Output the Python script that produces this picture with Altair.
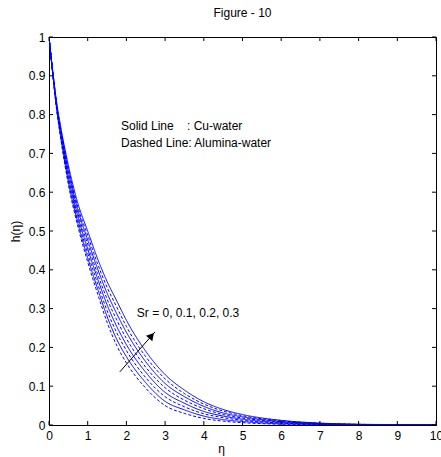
import altair as alt
import pandas as pd

# ---- data ----
eta = [0, 0.1, 0.2, 0.3, 0.5, 0.75, 1, 1.25, 1.5, 1.75, 2, 2.5, 3, 3.5, 4, 4.5, 5, 6, 7, 8, 9, 10]

alumina_sr0 = [1, 0.900, 0.810, 0.740, 0.620, 0.510, 0.420, 0.340, 0.265, 0.205, 0.160, 0.095, 0.050, 0.030, 0.017, 0.010, 0.006, 0.002, 0.001, 0.000, 0.000, 0.000]
cu_sr0 = [1, 0.901, 0.813, 0.744, 0.627, 0.519, 0.431, 0.353, 0.280, 0.221, 0.176, 0.109, 0.061, 0.039, 0.023, 0.014, 0.009, 0.003, 0.0016, 0.0003, 0.0001, 0.000]
alumina_sr1 = [1, 0.903, 0.816, 0.749, 0.634, 0.527, 0.443, 0.366, 0.295, 0.238, 0.192, 0.122, 0.073, 0.047, 0.029, 0.019, 0.012, 0.005, 0.002, 0.0006, 0.0003, 0.000]
cu_sr1 = [1, 0.904, 0.819, 0.753, 0.641, 0.536, 0.454, 0.379, 0.310, 0.254, 0.207, 0.136, 0.084, 0.056, 0.035, 0.023, 0.015, 0.006, 0.0027, 0.0009, 0.0004, 0.000]
alumina_sr2 = [1, 0.906, 0.821, 0.757, 0.649, 0.544, 0.466, 0.391, 0.325, 0.271, 0.223, 0.149, 0.096, 0.064, 0.042, 0.027, 0.018, 0.008, 0.003, 0.001, 0.0006, 0.000]
cu_sr2 = [1, 0.907, 0.824, 0.761, 0.656, 0.553, 0.477, 0.404, 0.340, 0.287, 0.239, 0.163, 0.107, 0.073, 0.048, 0.031, 0.021, 0.009, 0.0037, 0.0014, 0.0007, 0.000]
alumina_sr3 = [1, 0.909, 0.827, 0.766, 0.663, 0.561, 0.489, 0.417, 0.355, 0.304, 0.254, 0.176, 0.119, 0.081, 0.054, 0.036, 0.024, 0.011, 0.0043, 0.0017, 0.0009, 0.000]
cu_sr3 = [1, 0.910, 0.830, 0.770, 0.670, 0.570, 0.500, 0.430, 0.370, 0.320, 0.270, 0.190, 0.130, 0.090, 0.060, 0.040, 0.027, 0.012, 0.005, 0.002, 0.001, 0.000]

series = [
    ("Alumina-water", "0", alumina_sr0),
    ("Cu-water", "0", cu_sr0),
    ("Alumina-water", "0.1", alumina_sr1),
    ("Cu-water", "0.1", cu_sr1),
    ("Alumina-water", "0.2", alumina_sr2),
    ("Cu-water", "0.2", cu_sr2),
    ("Alumina-water", "0.3", alumina_sr3),
    ("Cu-water", "0.3", cu_sr3),
]

x_ticks = [0, 1, 2, 3, 4, 5, 6, 7, 8, 9, 10]
y_ticks = [0, 0.1, 0.2, 0.3, 0.4, 0.5, 0.6, 0.7, 0.8, 0.9, 1]

note_lines = ["Solid Line\u00a0\u00a0\u00a0\u00a0: Cu-water", "Dashed Line: Alumina-water"]
note_x = [1.86, 1.86]
note_y = [0.76, 0.716]
sr_label = "Sr = 0, 0.1, 0.2, 0.3"
sr_x, sr_y = 2.27, 0.278
arrow_start = (1.83, 0.137)
arrow_end = (2.74, 0.24)
arrow_head = (2.65, 0.230)

W, H = 387, 388
FONT = "Liberation Sans"

rows = []
for fluid, sr, vals in series:
    for e, v in zip(eta, vals):
        rows.append({"eta": e, "h": v, "fluid": fluid, "sr": sr, "key": fluid + sr})
df = pd.DataFrame(rows)

xs = alt.Scale(domain=[0, 10], nice=False)
ys = alt.Scale(domain=[0, 1], nice=False)

x_axis = alt.Axis(values=x_ticks, format="d", ticks=False, grid=False,
                  labelOverlap=False, labelFlush=False,
                  domainColor="black", labelColor="black", labelFont=FONT,
                  labelFontSize=12, labelPadding=5, title="η", titleFont=FONT,
                  titleFontSize=12, titleFontWeight="normal", titleColor="black",
                  titlePadding=2, titleX=172)
y_axis = alt.Axis(values=y_ticks, format=".1~f", ticks=False, grid=False,
                  labelOverlap=False, labelFlush=False,
                  domainColor="black", labelColor="black", labelFont=FONT,
                  labelFontSize=12, labelPadding=4, title="h(η)", titleFont=FONT,
                  titleFontSize=12, titleFontWeight="normal", titleColor="black",
                  titlePadding=6)


def X(field):
    return alt.X(field, scale=xs, axis=x_axis)


def Y(field):
    return alt.Y(field, scale=ys, axis=y_axis)


lines = alt.Chart(df).mark_line(strokeWidth=1, interpolate="monotone", clip=True).encode(
    x=X("eta:Q"),
    y=Y("h:Q"),
    detail="key:N",
    strokeDash=alt.StrokeDash("fluid:N",
                              scale=alt.Scale(domain=["Cu-water", "Alumina-water"],
                                              range=[[1, 0], [3, 2]]),
                              legend=None),
    color=alt.value("#0000ff"),
)

xt = pd.DataFrame({"v": x_ticks})
yt = pd.DataFrame({"v": y_ticks})
tick_style = dict(color="black", strokeWidth=1)
bottom_ticks = alt.Chart(xt).mark_rule(**tick_style).encode(
    x=X("v:Q"), y=alt.value(H), y2=alt.value(H - 4))
top_ticks = alt.Chart(xt).mark_rule(**tick_style).encode(
    x=X("v:Q"), y=alt.value(0), y2=alt.value(4))
left_ticks = alt.Chart(yt).mark_rule(**tick_style).encode(
    y=Y("v:Q"), x=alt.value(0), x2=alt.value(4))
right_ticks = alt.Chart(yt).mark_rule(**tick_style).encode(
    y=Y("v:Q"), x=alt.value(W), x2=alt.value(W - 4))

notes_df = pd.DataFrame({"t": note_lines, "x": note_x, "y": note_y})
notes = alt.Chart(notes_df).mark_text(align="left", baseline="alphabetic", font=FONT,
                                       fontSize=12, color="black").encode(
    x=X("x:Q"), y=Y("y:Q"), text="t:N")

sr_df = pd.DataFrame({"t": [sr_label], "x": [sr_x], "y": [sr_y]})
sr_text = alt.Chart(sr_df).mark_text(align="left", baseline="alphabetic", font=FONT,
                                     fontSize=12, color="black").encode(
    x=X("x:Q"), y=Y("y:Q"), text="t:N")

arr_df = pd.DataFrame({"x": [arrow_start[0]], "y": [arrow_start[1]],
                       "x2": [arrow_end[0]], "y2": [arrow_end[1]]})
arrow_line = alt.Chart(arr_df).mark_rule(color="black", strokeWidth=1).encode(
    x=X("x:Q"), y=Y("y:Q"), x2="x2:Q", y2="y2:Q")
head_df = pd.DataFrame({"x": [arrow_head[0]], "y": [arrow_head[1]]})
arrow_head_mark = alt.Chart(head_df).mark_point(shape="triangle-up", angle=41, filled=True,
                                                size=70, color="black", opacity=1).encode(
    x=X("x:Q"), y=Y("y:Q"))

chart = alt.layer(
    lines, bottom_ticks, top_ticks, left_ticks, right_ticks,
    notes, sr_text, arrow_line, arrow_head_mark
).properties(
    width=W, height=H,
    title=alt.TitleParams("Figure - 10", font=FONT, fontSize=12, fontWeight="normal",
                          color="black", offset=11, anchor="middle"),
    autosize=alt.AutoSizeParams(type="none"),
    padding={"left": 49, "top": 37, "right": 5, "bottom": 32},
    background="white",
).configure_view(stroke="black", strokeWidth=1)

chart.save("out.html", embed_options={"renderer": "svg", "actions": False})
